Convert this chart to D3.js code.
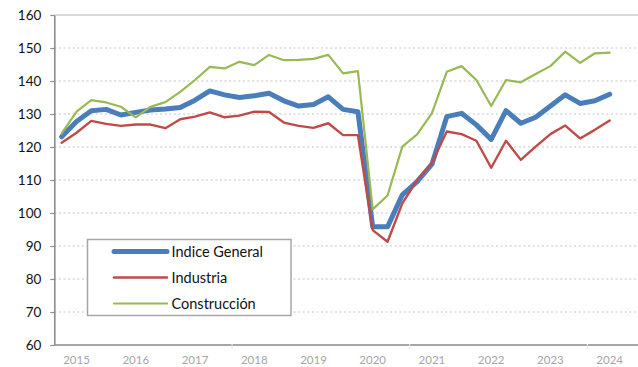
<!DOCTYPE html>
<html>
<head>
<meta charset="utf-8">
<script src="https://cdn.jsdelivr.net/npm/d3@7"></script>
<style>
  html, body { margin: 0; padding: 0; background: #fff; }
  svg { display: block; }
  text { font-family: Lato, "Open Sans", sans-serif; }
</style>
</head>
<body>
<svg id="chart" width="638" height="367"></svg>
<script>
// Quarterly index values, 2015 Q1 to 2024 Q2
const years = [2015, 2016, 2017, 2018, 2019, 2020, 2021, 2022, 2023, 2024];
const quarters = [];
years.forEach(yr => [1, 2, 3, 4].forEach(q => {
  if (yr < 2024 || q <= 2) quarters.push(yr + "T" + q);
}));

const indiceGeneral = [
  123.1, 127.7, 131.0, 131.4, 129.7, 130.5, 131.2, 131.5, 132.0, 134.2,
  137.0, 135.8, 135.0, 135.5, 136.3, 134.0, 132.4, 132.9, 135.2, 131.4,
  130.7, 95.8, 95.8, 105.5, 109.5, 114.8, 129.2, 130.2, 126.7, 122.3,
  131.0, 127.2, 129.0, 132.4, 135.8, 133.2, 134.0, 136.0
];
const industria = [
  121.3, 124.3, 127.9, 127.0, 126.4, 126.8, 126.8, 125.7, 128.4, 129.2,
  130.5, 129.0, 129.5, 130.7, 130.6, 127.4, 126.4, 125.8, 127.2, 123.6,
  123.6, 94.8, 91.3, 102.9, 110.0, 115.2, 124.7, 123.9, 121.9, 113.7,
  121.9, 116.1, 120.1, 123.9, 126.5, 122.6, 125.2, 128.0
];
const construccion = [
  124.1, 130.7, 134.2, 133.5, 132.2, 129.0, 132.2, 133.6, 136.7, 140.3,
  144.3, 143.8, 145.8, 144.8, 147.9, 146.3, 146.4, 146.7, 147.9, 142.3,
  143.0, 101.1, 105.3, 120.1, 123.8, 130.3, 142.8, 144.5, 140.3, 132.4,
  140.3, 139.6, 142.1, 144.5, 148.9, 145.5, 148.4, 148.6
];
const yTicks = [60, 70, 80, 90, 100, 110, 120, 130, 140, 150, 160];

const series = [
  { name: "Indice General", values: indiceGeneral, color: "#4a7ebb", width: 5 },
  { name: "Industria", values: industria, color: "#be4b48", width: 2.4 },
  { name: "Construcción", values: construccion, color: "#98b954", width: 2.2 }
];

const svg = d3.select("#chart");
const mLeft = 54.3, mTop = 15, mBottom = 345, plotRight = 638;
const step = 14.81;

const x = d3.scaleBand().domain(quarters).range([mLeft, mLeft + quarters.length * step]).padding(0);
const y = d3.scaleLinear().domain([60, 160]).range([mBottom, mTop]);
const cx = q => x(q) + x.bandwidth() / 2;

const defs = svg.append("defs");
const shadow = defs.append("filter").attr("id", "axisShadow")
  .attr("x", "-5%").attr("y", "-200%").attr("width", "110%").attr("height", "500%");
shadow.append("feGaussianBlur").attr("stdDeviation", 1.6);

// Gridlines
svg.append("g").selectAll("line")
  .data(yTicks.filter(t => t > 60 && t < 160))
  .join("line")
  .attr("x1", mLeft).attr("x2", plotRight)
  .attr("y1", d => y(d)).attr("y2", d => y(d))
  .attr("stroke", "#c4c4c4").attr("stroke-width", 1.2)
  .attr("stroke-dasharray", "2,2.6");
svg.append("line")
  .attr("x1", mLeft).attr("x2", plotRight)
  .attr("y1", y(160)).attr("y2", y(160))
  .attr("stroke", "#d9d9d9").attr("stroke-width", 2);

// Category axis with soft shadow
svg.append("line")
  .attr("x1", mLeft).attr("x2", plotRight)
  .attr("y1", mBottom + 3).attr("y2", mBottom + 3)
  .attr("stroke", "#9a9a9a").attr("stroke-width", 3)
  .attr("filter", "url(#axisShadow)");
svg.append("line")
  .attr("x1", mLeft).attr("x2", plotRight)
  .attr("y1", mBottom).attr("y2", mBottom)
  .attr("stroke", "#a6a6a6").attr("stroke-width", 2);
svg.append("g").selectAll("line")
  .data(quarters.filter((q, i) => i > 0 && i % 12 === 0))
  .join("line")
  .attr("x1", d => x(d)).attr("x2", d => x(d))
  .attr("y1", mBottom - 1).attr("y2", mBottom + 4)
  .attr("stroke", "#e6e6e6").attr("stroke-width", 1.2);

svg.append("g").selectAll("text")
  .data(years)
  .join("text")
  .attr("x", d => cx(d + "T2"))
  .attr("y", 364)
  .attr("text-anchor", "middle")
  .attr("font-size", 11.5)
  .attr("fill", "#a6a6a6")
  .text(d => d);

// Value axis
const yAxis = d3.axisLeft(y).tickValues(yTicks).tickSize(4).tickPadding(9).tickSizeOuter(0);
const gy = svg.append("g").attr("transform", `translate(${mLeft},0)`).call(yAxis);
gy.select(".domain").attr("stroke", "#8c8c8c").attr("stroke-width", 1.6);
gy.selectAll(".tick line").attr("stroke", "#8c8c8c").attr("stroke-width", 1.2);
gy.selectAll(".tick text")
  .attr("font-family", "Lato, sans-serif")
  .attr("font-size", 13.5).attr("fill", "#111");

// Series lines
const line = d3.line()
  .x((d, i) => cx(quarters[i]))
  .y(d => y(d));
svg.append("g").selectAll("path")
  .data(series)
  .join("path")
  .attr("d", d => line(d.values))
  .attr("fill", "none")
  .attr("stroke", d => d.color)
  .attr("stroke-width", d => d.width)
  .attr("stroke-linejoin", "round")
  .attr("stroke-linecap", "round");

// Legend
const lg = svg.append("g");
lg.append("rect")
  .attr("x", 87.5).attr("y", 239.5).attr("width", 203.5).attr("height", 76)
  .attr("fill", "#fff").attr("stroke", "#a6a6a6").attr("stroke-width", 1.5);
const rows = [251.5, 277.5, 303.5];
series.forEach((s, i) => {
  lg.append("line")
    .attr("x1", 114).attr("x2", 167)
    .attr("y1", rows[i]).attr("y2", rows[i])
    .attr("stroke", s.color).attr("stroke-width", s.width)
    .attr("stroke-linecap", "round");
  lg.append("text")
    .attr("x", 171.5).attr("y", rows[i] + 5)
    .attr("font-size", 14.5).attr("fill", "#111")
    .text(s.name);
});
</script>
</body>
</html>
